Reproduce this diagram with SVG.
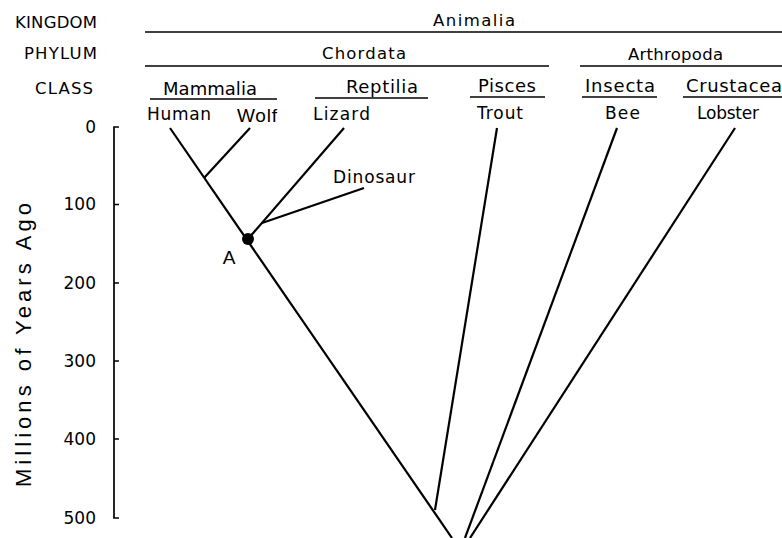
<svg xmlns="http://www.w3.org/2000/svg" width="782" height="538" viewBox="0 0 782 538">
<style>
text{font-family:"DejaVu Sans","Liberation Sans",sans-serif;fill:#000}
.h{font-size:16.5px}
.c{font-size:18px}
.s{font-size:17px}
.t{font-size:17px;text-anchor:end}
.ln{stroke:#000;stroke-width:1.7;fill:none}
.br{stroke:#000;stroke-width:2.2;fill:none;stroke-linecap:butt}
</style>
<rect width="782" height="538" fill="#fff"/>
<g id="header">
<text class="h" x="15" y="28" textLength="82">KINGDOM</text>
<text class="h" x="24" y="59" textLength="73">PHYLUM</text>
<text class="h" x="35" y="94" textLength="58">CLASS</text>
<text class="h" x="433" y="26" textLength="82">Animalia</text>
<line class="ln" x1="145" y1="32" x2="782" y2="32"/>
<text class="h" x="322" y="59" textLength="84">Chordata</text>
<line class="ln" x1="145" y1="66" x2="549" y2="66"/>
<text class="h" x="628" y="60" textLength="95">Arthropoda</text>
<line class="ln" x1="580" y1="66" x2="782" y2="66"/>
</g>
<g id="classes">
<text class="c" x="163" y="95" textLength="94">Mammalia</text>
<line class="ln" x1="150" y1="99" x2="277" y2="99"/>
<text class="c" x="346" y="93" textLength="72">Reptilia</text>
<line class="ln" x1="315" y1="98" x2="428" y2="98"/>
<text class="c" x="478" y="92" textLength="58">Pisces</text>
<line class="ln" x1="470" y1="97" x2="545" y2="97"/>
<text class="c" x="585" y="92" textLength="70">Insecta</text>
<line class="ln" x1="582" y1="97" x2="657" y2="97"/>
<text class="c" x="686" y="92" textLength="96">Crustacea</text>
<line class="ln" x1="683" y1="97" x2="782" y2="97"/>
</g>
<g id="species">
<text class="s" x="147" y="120" textLength="64">Human</text>
<text x="237" y="122" textLength="40" style="font-family:'Liberation Sans',sans-serif;font-size:19px">Wolf</text>
<text class="s" x="313" y="120" textLength="57">Lizard</text>
<text class="s" x="477" y="119" textLength="46">Trout</text>
<text class="s" x="605" y="119" textLength="35">Bee</text>
<text class="s" x="697" y="119" textLength="62">Lobster</text>
<text class="s" x="333" y="183" textLength="82">Dinosaur</text>
</g>
<g id="axis">
<path class="ln" d="M119 127H114V518H119M114 204.5H119M114 283H119M114 361H119M114 439H119"/>
<text class="t" x="96" y="133">0</text>
<text class="t" x="96" y="210">100</text>
<text class="t" x="96" y="289">200</text>
<text class="t" x="96" y="367">300</text>
<text class="t" x="96" y="445">400</text>
<text class="t" x="96" y="524">500</text>
<text x="0" y="0" transform="translate(31,487) rotate(-90)" textLength="284" style="font-family:'Liberation Sans',sans-serif;font-size:22px">Millions of Years Ago</text>
</g>
<g id="connectors">
<line class="br" x1="170" y1="128" x2="452" y2="538"/>
<line class="br" x1="250" y1="128" x2="204" y2="178"/>
<line class="br" x1="344" y1="128" x2="248" y2="239"/>
<line class="br" x1="262" y1="223" x2="364" y2="188"/>
<line class="br" x1="497" y1="128" x2="435" y2="510"/>
<line class="br" x1="617" y1="128" x2="465" y2="538"/>
<line class="br" x1="735" y1="128" x2="470" y2="538"/>
</g>
<g id="nodeA">
<circle cx="248" cy="239" r="6" fill="#000"/>
<text x="229" y="264" text-anchor="middle" style="font-family:'Liberation Sans',sans-serif;font-size:19px">A</text>
</g>
</svg>
